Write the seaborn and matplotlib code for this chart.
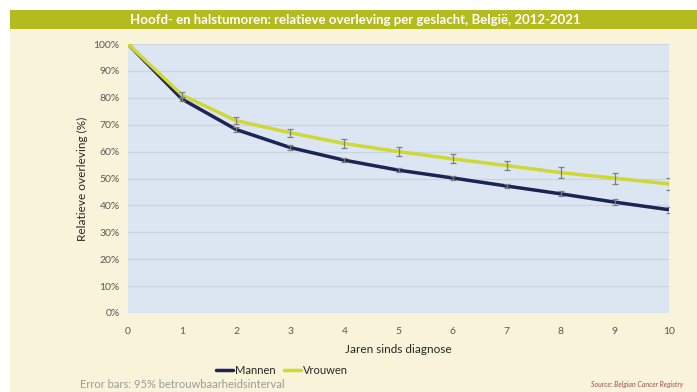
import numpy as np
import pandas as pd
import matplotlib
matplotlib.use("Agg")
import matplotlib.pyplot as plt
import seaborn as sns
from matplotlib.patches import Rectangle

# ----------------------------
# DATA
# ----------------------------
years = [0, 1, 2, 3, 4, 5, 6, 7, 8, 9, 10]
mannen = [100, 79.5, 68.2, 61.5, 56.8, 53.1, 50.2, 47.2, 44.3, 41.2, 38.4]
mannen_err = [0, 0.8, 0.8, 0.8, 0.8, 0.8, 0.8, 0.9, 0.9, 1.0, 1.1]
vrouwen = [100, 81.0, 71.5, 67.0, 63.0, 60.0, 57.3, 54.8, 52.2, 50.1, 48.0]
vrouwen_err = [0, 1.1, 1.3, 1.4, 1.5, 1.6, 1.7, 1.8, 2.0, 2.1, 2.1]
series = ["Mannen", "Vrouwen"]
colors = {"Mannen": "#1c2456", "Vrouwen": "#cfd834"}

df = pd.DataFrame({
    "Jaar": years * 2,
    "Overleving": mannen + vrouwen,
    "Fout": mannen_err + vrouwen_err,
    "Geslacht": ["Mannen"] * len(years) + ["Vrouwen"] * len(years),
})

# ----------------------------
# PLOT
# ----------------------------
sns.set_style("white")
plt.rcParams["font.family"] = ["Lato", "DejaVu Sans"]

fig = plt.figure(figsize=(6.97, 3.92), dpi=100)
fig.patch.set_facecolor("white")
# cream panel + title band (kept behind the axes)
fig.add_artist(Rectangle((10 / 697, 0), 1, 1 - 29 / 392, transform=fig.transFigure,
                         facecolor="#f8f3d9", edgecolor="none", zorder=-10))
fig.add_artist(Rectangle((10 / 697, 1 - 29 / 392), 1, 19 / 392, transform=fig.transFigure,
                         facecolor="#b3bb1f", edgecolor="none", zorder=-10))
fig.text(0.51, 1 - 19.5 / 392, "Hoofd- en halstumoren: relatieve overleving per geslacht, België, 2012-2021",
         ha="center", va="center", color="white", fontsize=9.5, fontweight="bold")

ax = fig.add_axes([128 / 697, 1 - 313 / 392, (669 - 128) / 697, (313 - 44) / 392])
ax.set_zorder(1)
ax.set_facecolor("#dce6f2")

sns.lineplot(data=df, x="Jaar", y="Overleving", hue="Geslacht", palette=colors,
             hue_order=series, linewidth=2.5, ax=ax, zorder=3)

for name in series:
    sub = df[df["Geslacht"] == name]
    sub = sub[sub["Fout"] > 0]
    ax.errorbar(sub["Jaar"], sub["Overleving"], yerr=sub["Fout"], fmt="none",
                ecolor="#7f7f7f", elinewidth=0.9, capsize=2.5, capthick=0.9, zorder=4)

ax.set_xlim(0, 10)
ax.set_ylim(0, 100)
ax.set_xticks(years)
ax.set_yticks(range(0, 101, 10))
ax.set_yticklabels([f"{v}%" for v in range(0, 101, 10)])
ax.yaxis.grid(True, color="#c9d3e0", linewidth=0.8)
ax.set_axisbelow(True)
for s in ax.spines.values():
    s.set_visible(False)
ax.tick_params(axis="both", length=0, labelsize=7.5, colors="#595959", pad=6)
ax.tick_params(axis="x", pad=10)
ax.set_xlabel("Jaren sinds diagnose", fontsize=8.5, color="#262626", labelpad=6)
ax.set_ylabel("Relatieve overleving (%)", fontsize=8.5, color="#262626", labelpad=4)

leg = ax.legend(loc="center", bbox_to_anchor=(0.285, -0.214), ncol=2, frameon=False,
                fontsize=8, handlelength=1.5, handletextpad=0.2, columnspacing=0.8,
                borderpad=0.1)
for line in leg.get_lines():
    line.set_linewidth(2.5)

fig.text(80 / 697, 1 - 385 / 392, "Error bars: 95% betrouwbaarheidsinterval",
         fontsize=8, color="#9a9a9a", va="center")
fig.text(683 / 697, 1 - 385 / 392, "Source: Belgian Cancer Registry",
         fontsize=5, color="#a05050", style="italic", ha="right", va="center")

fig.savefig("out.png", dpi=100, facecolor=fig.get_facecolor())
